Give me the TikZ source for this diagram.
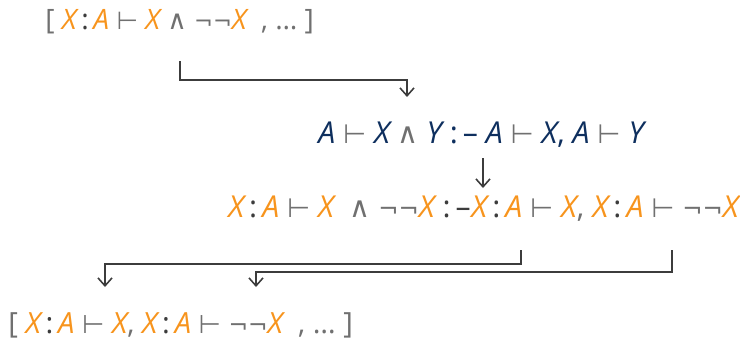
\documentclass[tikz,border=0pt]{standalone}
\usepackage{fontspec}
\usepackage{graphicx}
\setmainfont{Open Sans}
\newfontfamily\symfont{DejaVu Sans}
\usetikzlibrary{arrows.meta}
\definecolor{goalorange}{HTML}{F7941D}
\definecolor{rulenavy}{HTML}{0E2F5E}
\definecolor{symgray}{HTML}{707070}
\definecolor{inkgray}{HTML}{3C3C3C}
\newcommand{\ov}[1]{\textcolor{goalorange}{\itshape #1}}
\newcommand{\nv}[1]{\textcolor{rulenavy}{\itshape #1}}
\newcommand{\sy}[2]{{\symfont\color{symgray}\scalebox{#1}{#2}}}
\newcommand{\gr}[1]{\textcolor{symgray}{#1}}
\newcommand{\vd}{\sy{0.88}{⊢}}
\newcommand{\an}{\sy{0.95}{∧}}
\newcommand{\nn}{\sy{0.8}{¬¬}}
\newcommand{\cl}{\,\textcolor{inkgray}{:}\,}
\newcommand{\nk}{{:}\,–}

\begin{document}
\begin{tikzpicture}[
  x=0.02cm, y=-0.02cm,
  term/.style={inner sep=0pt, anchor=base west},
  flow/.style={draw=inkgray, line width=0.9pt, -{Straight Barb[length=4.5pt, width=8pt, line width=0.9pt]}}
]
\useasboundingbox (0,0) rectangle (740,339);

% goal list, rule, instance, new goal list
\node[term, font=\fontsize{16}{19}\selectfont] (goal) at (45,29)
  {\gr{[}\ \ov{X}\cl\ov{A} \vd{} \ov{X} \an{} \nn\ov{X} \ \gr{,} \gr{…} \gr{]}};
\node[term, font=\fontsize{17.2}{20}\selectfont] (rule) at (318,143)
  {\nv{A} \vd{} \nv{X} \an{} \nv{Y} \textcolor{rulenavy}{\nk} \nv{A} \vd{} \nv{X}\textcolor{rulenavy}{,} \nv{A} \vd{} \nv{Y}};
\node[term, font=\fontsize{17.2}{20}\selectfont] (head) at (228,217)
  {\ov{X}\cl\ov{A} \vd{} \ov{X}\ \ \an{} \nn\ov{X} \textcolor{inkgray}{\nk}};
\node[term, font=\fontsize{17.2}{20}\selectfont] (sub1) at (head.base east)
  {\ov{X}\cl\ov{A} \vd{} \ov{X}\gr{,}};
\node[term, font=\fontsize{17.2}{20}\selectfont] (sub2) at (sub1.base east)
  {\hspace*{0.25em}\ov{X}\cl\ov{A} \vd{} \nn\ov{X}};
\node[term, font=\fontsize{16.6}{19}\selectfont] (newgoals) at (8,333)
  {\gr{[}\ \ov{X}\cl\ov{A} \vd{} \ov{X}\gr{,} \ov{X}\cl\ov{A} \vd{} \nn\ov{X} \ \gr{,} \gr{…} \gr{]}};

\coordinate (out0) at (180,61);
\coordinate (in0) at (407,97);
\coordinate (out1) at (483,158);
\coordinate (in1) at (483,188);
\coordinate (out2) at (521,250);
\coordinate (in2) at (105,287);
\coordinate (out3) at (672,250);
\coordinate (in3) at (256,287);

\draw[flow] (out0) -- ++(0,19) -| (in0);
\draw[flow] (out1) -- (in1);
\draw[flow] (out2) -- ++(0,14) -| (in2);
\draw[flow] (out3) -- ++(0,22) -| (in3);
\end{tikzpicture}
\end{document}
